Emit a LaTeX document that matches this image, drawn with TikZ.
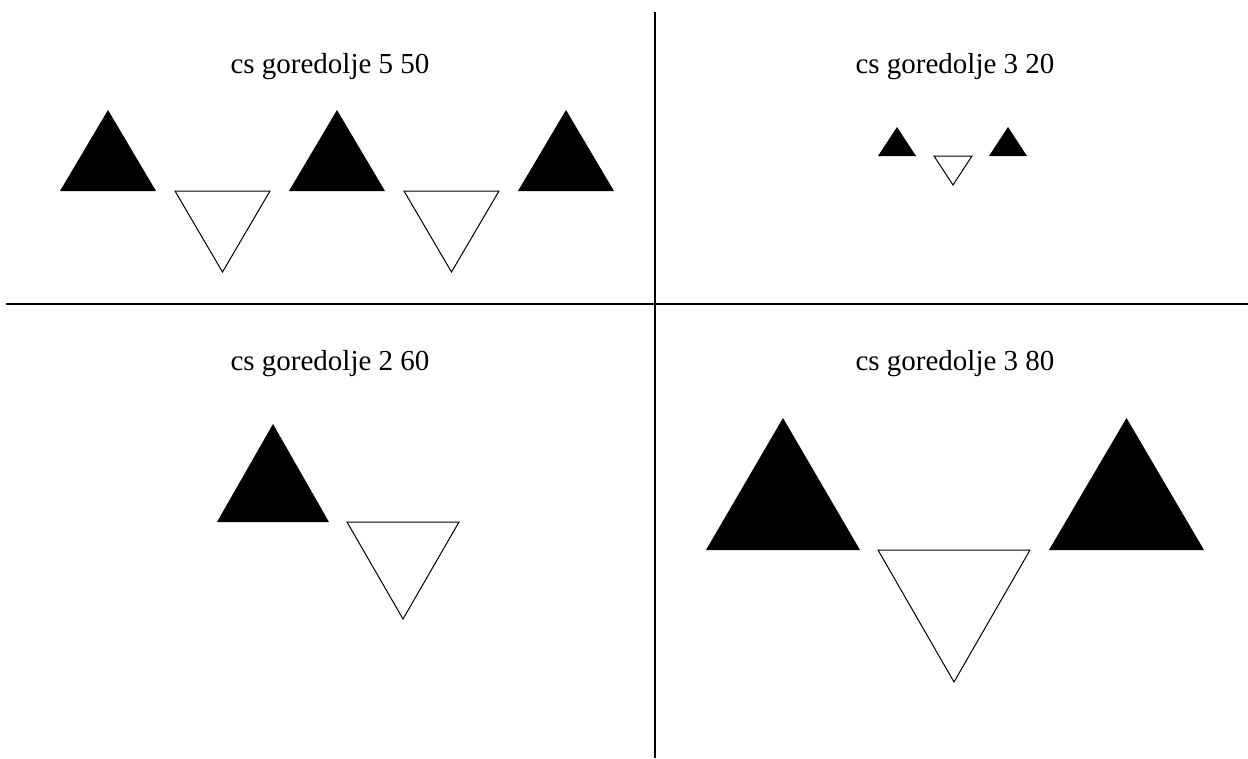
\documentclass[tikz,border=0pt]{standalone}
\usepackage{fontspec}
\setmainfont{Liberation Serif}
\tikzset{
  panel title/.style={anchor=base, font=\fontsize{29}{30}\selectfont},
  full tri/.style={fill=black},
  empty tri/.style={draw=black, line width=1pt, fill=white},
  divider/.style={line width=2.2pt}
}
% triangles: left x, base y, width, height
\newcommand{\uptri}[4]{\fill[full tri] (#1,#2) -- ++(#3,0) -- ++(-#3/2,-#4) -- cycle;}
\newcommand{\downtri}[4]{\draw[empty tri] (#1,#2) -- ++(#3,0) -- ++(-#3/2,#4) -- cycle;}

\begin{document}
\begin{tikzpicture}[x=1pt,y=-1pt]
    \useasboundingbox (0,0) rectangle (1248,758);

    % dividers
    \draw[divider] (655,12) -- (655,758);
    \draw[divider] (6,304) -- (1248,304);

    % titles
    \node[panel title] (tl) at (330,73) {cs goredolje 5 50};
    \node[panel title] (tr) at (955,73) {cs goredolje 3 20};
    \node[panel title] (bl) at (330,370) {cs goredolje 2 60};
    \node[panel title] (br) at (955,370) {cs goredolje 3 80};

    % top left
    \foreach \i in {0,1,2} {\uptri{60+229*\i}{191}{96}{81}}
    \foreach \i in {0,1} {\downtri{175+229*\i}{191}{95}{81}}

    % top right
    \uptri{878}{156}{38}{29}
    \downtri{934}{156}{38}{29}
    \uptri{989}{156}{38}{29}

    % bottom left
    \uptri{217}{522}{112}{98}
    \downtri{347}{522}{112}{97}

    % bottom right
    \uptri{706}{550}{154}{132}
    \downtri{878}{550}{152}{132}
    \uptri{1049}{550}{155}{132}
\end{tikzpicture}
\end{document}
